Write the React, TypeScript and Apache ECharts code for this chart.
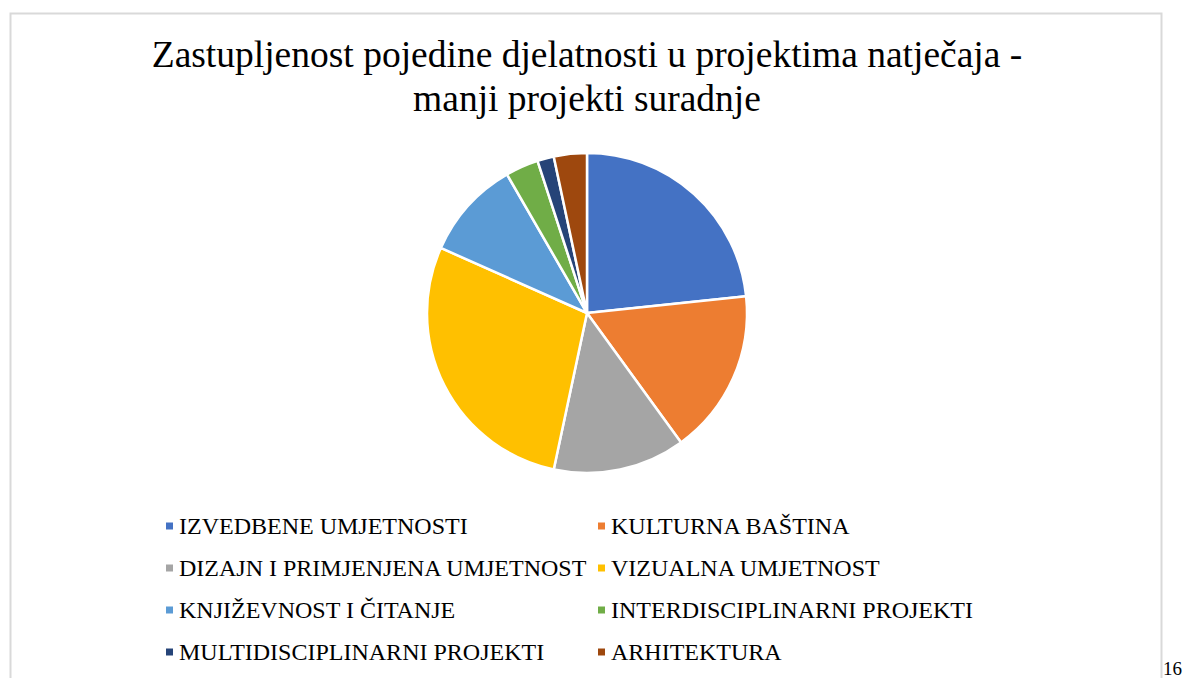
import React, { useEffect, useRef } from "react";
import * as echarts from "echarts";

const titleLines = [
  "Zastupljenost pojedine djelatnosti u projektima natječaja -",
  "manji projekti suradnje",
];
const categories = [
  "IZVEDBENE UMJETNOSTI",
  "KULTURNA BAŠTINA",
  "DIZAJN I PRIMJENJENA UMJETNOST",
  "VIZUALNA UMJETNOST",
  "KNJIŽEVNOST I ČITANJE",
  "INTERDISCIPLINARNI PROJEKTI",
  "MULTIDISCIPLINARNI PROJEKTI",
  "ARHITEKTURA",
];
const values = [14, 10, 8, 17, 6, 2, 1, 2];
const colors = ["#4472C4", "#ED7D31", "#A5A5A5", "#FFC000", "#5B9BD5", "#70AD47", "#264478", "#9E480E"];
const pageNumber = "16";

const FONT = "Times New Roman, Liberation Serif, serif";

export default function App() {
  const ref = useRef<HTMLDivElement>(null);
  useEffect(() => {
    document.body.style.margin = "0";
    const chart = echarts.init(ref.current!, null, { renderer: "svg" });
    const legendText = { fontFamily: FONT, fontSize: 24, color: "#000", lineHeight: 24 };
    const leftCol = categories.filter((_, i) => i % 2 === 0);
    const rightCol = categories.filter((_, i) => i % 2 === 1);
    const legendBase = {
      orient: "vertical",
      top: 509,
      itemWidth: 9,
      itemHeight: 9,
      itemGap: 18,
      icon: "rect",
      textStyle: legendText,
      selectedMode: false,
    };
    chart.setOption({
      animation: false,
      color: colors,
      textStyle: { fontFamily: FONT },
      title: {
        text: titleLines.join("\n"),
        left: 582,
        top: 28,
        textAlign: "center",
        textStyle: { fontFamily: FONT, fontSize: 37.5, fontWeight: "normal", color: "#000", lineHeight: 43.5 },
      },
      legend: [
        { ...legendBase, data: leftCol, left: 159 },
        { ...legendBase, data: rightCol, left: 591 },
      ],
      graphic: [
        {
          type: "rect",
          shape: { x: 10.5, y: 13.5, width: 1151, height: 700 },
          style: { fill: "none", stroke: "#d9d9d9", lineWidth: 2 },
          silent: true,
        },
        {
          type: "text",
          x: 1163,
          y: 668,
          style: {
            text: pageNumber,
            fontFamily: FONT,
            fontSize: 19,
            lineHeight: 16,
            fill: "#000",
            verticalAlign: "middle",
          },
          silent: true,
        },
      ],
      series: [
        {
          type: "pie",
          center: [587, 313],
          radius: 160,
          startAngle: 90,
          clockwise: true,
          label: { show: false },
          labelLine: { show: false },
          emphasis: { disabled: true },
          itemStyle: { borderColor: "#fff", borderWidth: 2.5 },
          data: categories.map((name, i) => ({ name, value: values[i] })),
        },
      ],
    });
    return () => chart.dispose();
  }, []);
  return <div ref={ref} style={{ width: 1184, height: 678 }} />;
}
